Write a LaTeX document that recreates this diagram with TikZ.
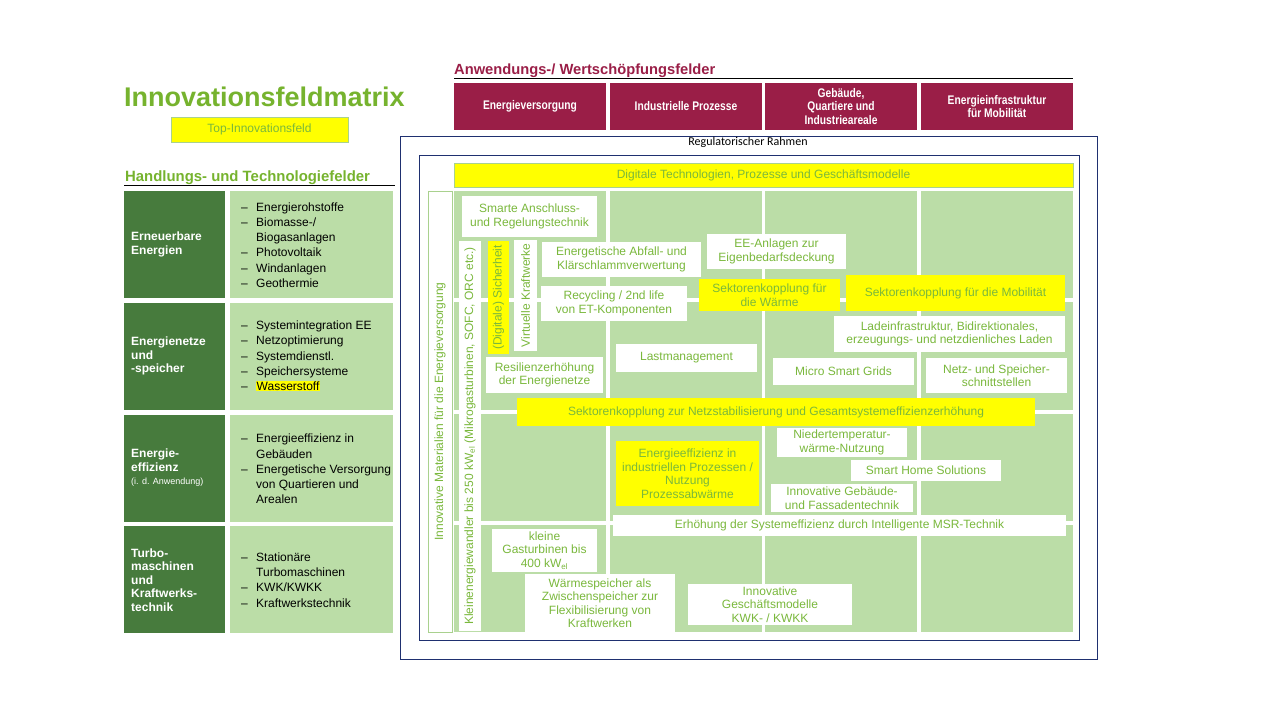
\documentclass[tikz,border=0pt]{standalone}
\usepackage{fontspec}
\setmainfont{Liberation Sans}
\newfontfamily\calib{Carlito}
\newfontfamily\narrowsf[FakeStretch=0.82]{Liberation Sans}
\definecolor{tgreen}{HTML}{7AB83C}
\definecolor{titgreen}{HTML}{76B32E}
\definecolor{dgreen}{HTML}{477B3D}
\definecolor{lgreen}{HTML}{BBDDA7}
\definecolor{bgreen}{HTML}{A9D18E}
\definecolor{wmaroon}{HTML}{9A1E47}
\definecolor{navy}{HTML}{1F3070}
\definecolor{yel}{HTML}{FFFF00}
\newcommand\bx[7]{\node[#2, minimum width={(#5-#3)*1pt}, minimum height={(#6-#4)*1pt}] (#1) at ({(#3+#5)/2},{(#4+#6)/2}) {#7};}
\newcommand\vbx[7]{\node[#2, rotate=90, minimum width={(#6-#4)*1pt}, minimum height={(#5-#3)*1pt}] (#1) at ({(#3+#5)/2},{(#4+#6)/2}) {#7};}
\newcommand\dsh{\makebox[15pt][l]{–}}
\newcommand\ind{\hspace*{15pt}}
\begin{document}
\begin{tikzpicture}[x=1pt,y=-1pt,
  base/.style={inner sep=1pt, outer sep=0pt, align=center, font=\fontsize{12}{13.5}\selectfont, text=tgreen},
  wbox/.style={base, fill=white},
  ybox/.style={base, fill=yel},
  cell/.style={fill=lgreen, inner sep=0pt, outer sep=0pt},
  dbox/.style={fill=dgreen, inner sep=0pt, outer sep=0pt},
  dlabel/.style={anchor=west, align=left, text=white, inner sep=0pt, font=\bfseries\fontsize{12}{13.5}\selectfont},
  list/.style={anchor=west, align=left, text=black, inner sep=0pt, font=\fontsize{12}{15.2}\selectfont},
  mbox/.style={fill=wmaroon, text=white, inner sep=0pt, outer sep=0pt, align=center, font=\narrowsf\bfseries\fontsize{12.5}{13.5}\selectfont},
  frame/.style={draw=navy, line width=1pt, fill=none, inner sep=0pt, outer sep=0pt}
]
\useasboundingbox[fill=white] (0,0) rectangle (1280,720);

% headings
\node[anchor=base west, inner sep=0pt, text=titgreen, font=\bfseries\fontsize{27}{30}\selectfont] (title) at (124,106) {Innovationsfeldmatrix};
\bx{top}{base, fill=yel, draw=bgreen}{171}{117}{348}{142}{Top-Innovationsfeld}
\node[anchor=base west, inner sep=0pt, text=titgreen, font=\bfseries\fontsize{14.9}{16}\selectfont] (hth) at (125,181) {Handlungs- und Technologiefelder};
\coordinate (hl1) at (124,185); \coordinate (hl2) at (395,185);
\draw[line width=1pt] (hl1) -- (hl2);
\node[anchor=base west, inner sep=0pt, text=wmaroon, font=\bfseries\fontsize{14.7}{16}\selectfont] (haw) at (454,74) {Anwendungs-/ Wertschöpfungsfelder};
\coordinate (al1) at (454,78); \coordinate (al2) at (1073,78);
\draw[line width=1pt] (al1) -- (al2);

% maroon headers
\bx{m1}{mbox}{454}{83}{606}{130}{Energieversorgung}
\bx{m2}{mbox}{610}{83}{762}{130}{Industrielle Prozesse}
\bx{m3}{mbox}{765}{83}{917}{130}{Gebäude,\\Quartiere und\\Industrieareale}
\bx{m4}{mbox}{921}{83}{1073}{130}{Energieinfrastruktur\\für Mobilität}

% left side
\bx{d1}{dbox}{124}{191}{225}{298}{}
\bx{d2}{dbox}{124}{303}{225}{410}{}
\bx{d3}{dbox}{124}{415}{225}{522}{}
\bx{d4}{dbox}{124}{526}{225}{633}{}
\bx{l1}{cell}{230}{191}{393}{298}{}
\bx{l2}{cell}{230}{303}{393}{410}{}
\bx{l3}{cell}{230}{415}{393}{522}{}
\bx{l4}{cell}{230}{526}{393}{633}{}
\node[dlabel] (t1) at (131,244.5) {Erneuerbare\\Energien};
\node[dlabel] (t2) at (131,356) {Energienetze\\und\\-speicher};
\node[dlabel] (t3) at (131,468) {Energie-\\effizienz\\{\mdseries\fontsize{9}{10}\selectfont(i. d. Anwendung)}};
\node[dlabel] (t4) at (131,580) {Turbo-\\maschinen\\und\\Kraftwerks-\\technik};
\node[list] (li1) at (241,245) {\dsh Energierohstoffe\\\dsh Biomasse-/\\\ind Biogasanlagen\\\dsh Photovoltaik\\\dsh Windanlagen\\\dsh Geothermie};
\node[list] (li2) at (241,356) {\dsh Systemintegration EE\\\dsh Netzoptimierung\\\dsh Systemdienstl.\\\dsh Speichersysteme\\\dsh {\setlength\fboxsep{0.5pt}\colorbox{yel}{Wasserstoff}}};
\node[list] (li3) at (241,469) {\dsh Energieeffizienz in\\\ind Gebäuden\\\dsh Energetische Versorgung\\\ind von Quartieren und\\\ind Arealen};
\node[list] (li4) at (241,580) {\dsh Stationäre\\\ind Turbomaschinen\\\dsh KWK/KWKK\\\dsh Kraftwerkstechnik};

% frames
\bx{outer}{frame}{400}{136}{1097}{659}{}
\node[inner sep=0pt, font=\calib\fontsize{12}{13}\selectfont] (reg) at (748,142) {Regulatorischer Rahmen};
\bx{inner}{frame}{419}{155}{1079}{640}{}

% digital bar
\bx{dig}{base, fill=yel, draw=bgreen}{454}{163}{1073}{187}{Digitale Technologien, Prozesse und Geschäftsmodelle}

% grid cells
\bx{c11}{cell}{454}{191}{606}{298}{}
\bx{c12}{cell}{610}{191}{762}{298}{}
\bx{c13}{cell}{765}{191}{917}{298}{}
\bx{c14}{cell}{921}{191}{1073}{298}{}
\bx{c21}{cell}{454}{302}{606}{410}{}
\bx{c22}{cell}{610}{302}{762}{410}{}
\bx{c23}{cell}{765}{302}{917}{410}{}
\bx{c24}{cell}{921}{302}{1073}{410}{}
\bx{c31}{cell}{454}{414}{606}{521}{}
\bx{c32}{cell}{610}{414}{762}{521}{}
\bx{c33}{cell}{765}{414}{917}{521}{}
\bx{c34}{cell}{921}{414}{1073}{521}{}
\bx{c41}{cell}{454}{525}{606}{632}{}
\bx{c42}{cell}{610}{525}{762}{632}{}
\bx{c43}{cell}{765}{525}{917}{632}{}
\bx{c44}{cell}{921}{525}{1073}{632}{}

% vertical boxes
\vbx{mat}{base, fill=white, draw=bgreen}{428}{191}{452}{632}{Innovative Materialien für die Energieversorgung}
\vbx{kew}{wbox}{459}{241}{481}{631}{Kleinenergiewandler bis 250 kW\textsubscript{el} (Mikrogasturbinen, SOFC, ORC etc.)}
\vbx{sich}{ybox}{488}{241}{509}{354}{(Digitale) Sicherheit}
\vbx{vkw}{wbox}{514}{240}{537}{351}{Virtuelle Kraftwerke}

% boxes
\bx{sar}{wbox}{462}{196}{597}{237}{Smarte Anschluss-\\und Regelungstechnik}
\bx{eak}{wbox}{542}{242}{701}{277}{Energetische Abfall- und\\Klärschlammverwertung}
\bx{rec}{wbox}{541}{286}{687}{321}{Recycling / 2nd life\\von ET-Komponenten}
\bx{eea}{wbox}{707}{234}{846}{269}{EE-Anlagen zur\\Eigenbedarfsdeckung}
\bx{skw}{ybox}{699}{279}{840}{311}{Sektorenkopplung für\\die Wärme}
\bx{skm}{ybox}{846}{275}{1065}{311}{Sektorenkopplung für die Mobilität}
\bx{lad}{wbox}{834}{316}{1065}{352}{Ladeinfrastruktur, Bidirektionales,\\erzeugungs- und netzdienliches Laden}
\bx{msg}{wbox}{773}{358}{914}{385}{Micro Smart Grids}
\bx{nss}{wbox}{926}{358}{1067}{393}{Netz- und Speicher-\\schnittstellen}
\bx{lst}{wbox}{616}{344}{757}{372}{Lastmanagement}
\bx{res}{wbox}{486}{357}{603}{393}{Resilienzerhöhung\\der Energienetze}
\bx{skn}{ybox}{517}{398}{1035}{426}{Sektorenkopplung zur Netzstabilisierung und Gesamtsystemeffizienzerhöhung}
\bx{eip}{ybox}{616}{441}{759}{506}{Energieeffizienz in\\industriellen Prozessen /\\Nutzung\\Prozessabwärme}
\bx{ntw}{wbox}{777}{428}{907}{457}{Niedertemperatur-\\wärme-Nutzung}
\bx{shs}{wbox}{851}{460}{1001}{481}{Smart Home Solutions}
\bx{igf}{wbox}{771}{484}{913}{512}{Innovative Gebäude-\\und Fassadentechnik}
\bx{msr}{wbox}{613}{515}{1066}{536}{Erhöhung der Systemeffizienz durch Intelligente MSR-Technik}
\bx{kgt}{wbox}{492}{529}{597}{572}{kleine\\Gasturbinen bis\\400 kW\textsubscript{el}}
\bx{wsp}{wbox}{525}{574}{675}{632}{Wärmespeicher als\\Zwischenspeicher zur\\Flexibilisierung von\\Kraftwerken}
\bx{igm}{wbox}{688}{584}{852}{625}{Innovative\\Geschäftsmodelle\\KWK- / KWKK}
\end{tikzpicture}
\end{document}
